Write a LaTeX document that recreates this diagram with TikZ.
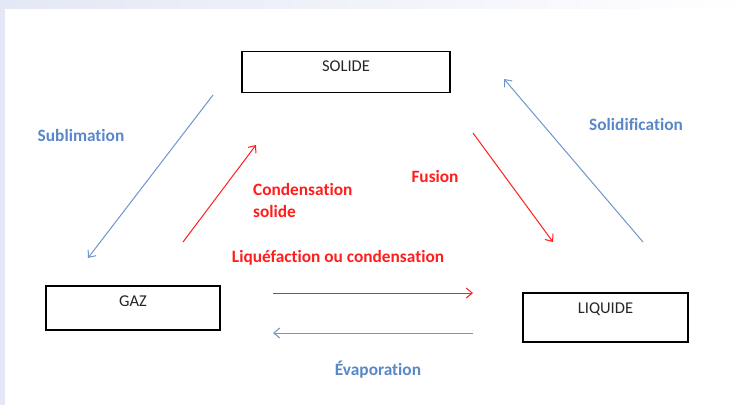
\documentclass[tikz,border=0pt]{standalone}
\usepackage{fontspec}
\setmainfont[Ligatures={NoCommon}]{Carlito}
\usetikzlibrary{arrows.meta}
\definecolor{lav}{RGB}{228,231,245}
\definecolor{bluetxt}{RGB}{90,135,200}
\definecolor{bluearr}{RGB}{110,150,205}
\definecolor{redc}{RGB}{255,30,30}
\tikzset{
  box/.style={draw=black, line width=1.2pt, inner sep=0pt, text height=20pt, text depth=21pt,
    font=\fontsize{16.5}{19}\selectfont, text=black!85},
  lbl/.style={font=\fontsize{17.3}{22}\selectfont\bfseries, inner sep=0pt},
  bluelbl/.style={lbl, text=bluetxt},
  redlbl/.style={lbl, text=redc},
  barr/.style={draw=bluearr, line width=1pt, -{Straight Barb[length=6pt,width=10pt]}},
  rarr/.style={draw=redc, line width=1pt, -{Straight Barb[length=6pt,width=10pt]}},
}
\begin{document}
\begin{tikzpicture}[x=1pt,y=-1pt]
\useasboundingbox (0,0) rectangle (750,405);
\fill[white] (0,0) rectangle (750,405);
\shade[left color=lav, right color=white] (0,0) rectangle (750,8);
\fill[lav] (0,0) rectangle (5,405);

% boxes
\node[box, minimum width=208pt] (solide) at (346,72) {SOLIDE};
\node[box, minimum width=174pt, minimum height=44pt, text height=20pt, text depth=24pt] (gaz) at (133,308) {GAZ};
\node[box, minimum width=165pt, minimum height=49pt, text height=20pt, text depth=29pt] (liquide) at (605.5,317.5) {LIQUIDE};

% arrow end points
\coordinate (sub1) at (213,95);
\coordinate (sub2) at (88,258);
\coordinate (cs1) at (183,242);
\coordinate (cs2) at (256,145);
\coordinate (fu1) at (473,133);
\coordinate (fu2) at (553,242);
\coordinate (so1) at (643,242);
\coordinate (so2) at (504,79);
\coordinate (li1) at (273,293);
\coordinate (li2) at (473,293);
\coordinate (ev1) at (473,333);
\coordinate (ev2) at (273,333);

\draw[barr] (sub1) -- (sub2);
\draw[rarr] (cs1) -- (cs2);
\draw[rarr] (fu1) -- (fu2);
\draw[barr] (so1) -- (so2);
\draw[rarr] (li1) -- (li2);
\draw[barr] (ev1) -- (ev2);

% labels
\node[bluelbl] (lsub) at (81,135) {Sublimation};
\node[bluelbl] (lsol) at (636,124) {Solidification};
\node[redlbl, anchor=west, align=left] (lcs) at (253,200) {Condensation\\solide};
\node[redlbl] (lfu) at (435,176) {Fusion};
\node[redlbl] (lli) at (338,258) {Liquéfaction ou condensation};
\node[bluelbl] (lev) at (378,370) {Évaporation};
\end{tikzpicture}
\end{document}
